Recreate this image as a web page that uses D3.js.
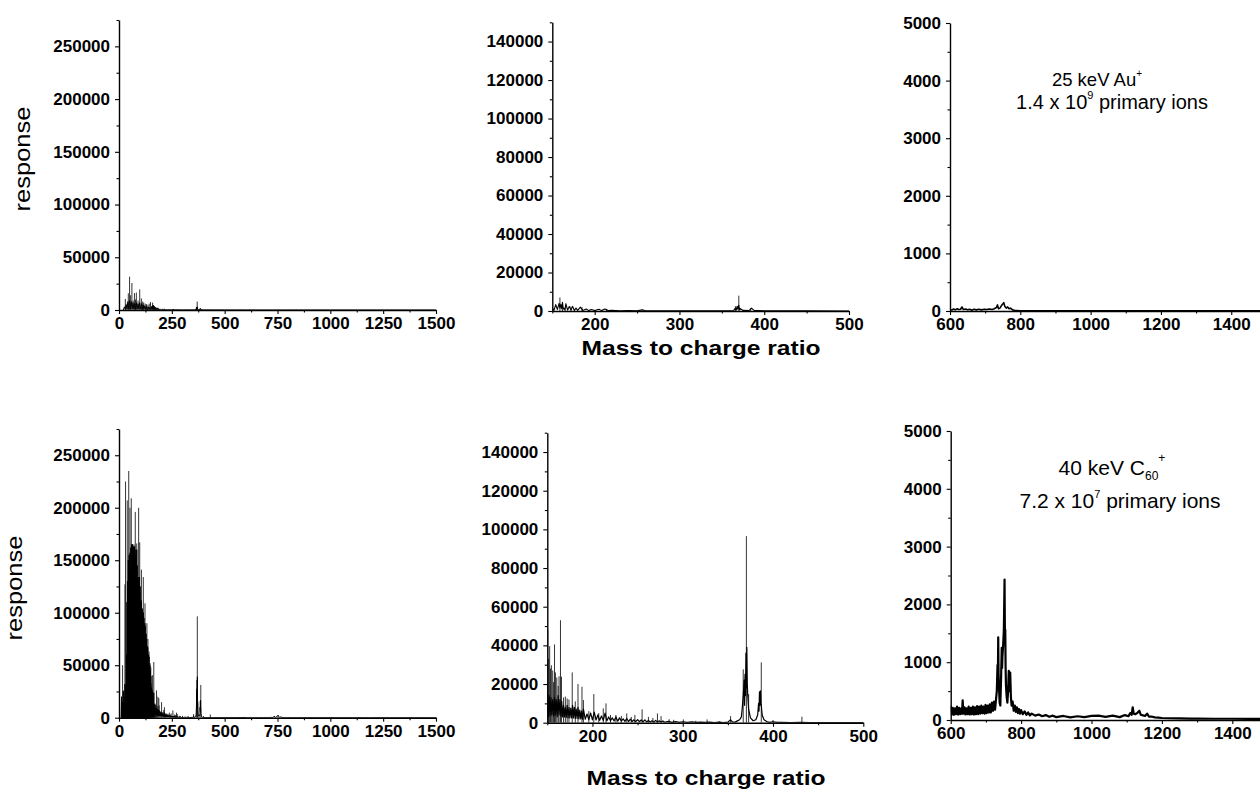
<!DOCTYPE html>
<html lang="en">
<head>
	<meta charset="UTF-8">
	<script src="https://d3js.org/d3.v7.min.js"></script>
	<title>Secondary ion spectra</title>
	<style>
		body { margin: 0; background: #fff; }
		svg { display: block; }
		.axis path, .axis line { stroke: #000; }
		.axis path { stroke-width: 1.4px; }
		.axis line { stroke-width: 1.1px; }
		.axis text {
			font-family: "Liberation Sans", Arial, sans-serif;
			font-weight: bold;
			font-size: 17px;
			fill: #000;
		}
		.label { font-family: "Liberation Sans", Arial, sans-serif; fill: #000; }
	</style>
</head>
<body>
<script>
	// ---- tick labels ----
	const fullMzTicks = [0, 250, 500, 750, 1000, 1250, 1500];
	const fullMzMinor = [125, 375, 625, 875, 1125, 1375];
	const lowMzTicks = [200, 300, 400, 500];
	const lowMzMinor = [150, 250, 350, 450];
	const highMzTicks = [600, 800, 1000, 1200, 1400];
	const highMzMinor = [700, 900, 1100, 1300, 1500];
	const fullIntTicks = [0, 50000, 100000, 150000, 200000, 250000];
	const fullIntMinor = [25000, 75000, 125000, 175000, 225000, 275000];
	const lowIntTicks = [0, 20000, 40000, 60000, 80000, 100000, 120000, 140000];
	const lowIntMinor = [10000, 30000, 50000, 70000, 90000, 110000, 130000, 150000];
	const highIntTicks = [0, 1000, 2000, 3000, 4000, 5000];
	const highIntMinor = [500, 1500, 2500, 3500, 4500];

	// ---- 25 keV Au+ : sticks [m/z, counts] ----
	const auPeaks = [
		[30, 10400], [38, 6000], [44, 15800], [50, 31600], [55, 14000], [61, 25600], [67, 9000],
		[73, 16000], [78, 10000], [82, 16500], [90, 9000], [98, 19500], [106, 11000], [112, 8000],
		[117, 7000], [124, 6000], [130, 5500], [137, 5000], [143, 6000], [149, 7500], [159, 7000],
		[162, 4500], [172, 2400], [185, 2100], [214, 1100], [256, 700], [366, 2500], [370, 8000],
		[384, 1500]
	];
	// ---- 25 keV Au+ : profile [m/z, counts] ----
	const auProfile = [
		[20, 0], [26, 3000], [30, 500], [34, 5000], [38, 800], [42, 8000], [46, 1000], [50, 9000],
		[54, 1200], [58, 8000], [62, 1000], [66, 7000], [70, 1000], [74, 6000], [78, 900], [82, 7000],
		[86, 800], [90, 6000], [94, 800], [98, 7000], [102, 700], [106, 6000], [110, 600], [114, 5000],
		[118, 500], [122, 4000], [126, 500], [130, 3500], [134, 400], [138, 3000], [142, 400], [146, 2500],
		[150, 1500], [152, 300], [154, 3300], [156, 800], [158, 4000], [159, 1500], [160, 3500],
		[161, 1200], [162, 4500], [163, 1000], [164, 1500], [165, 300], [166, 3800], [168, 400],
		[170, 2400], [172, 500], [174, 2400], [176, 300], [178, 1500], [180, 300], [183, 2000],
		[186, 300], [190, 1000], [193, 200], [196, 800], [200, 200], [205, 900], [208, 200], [212, 1000],
		[216, 200], [220, 300], [230, 100], [240, 200], [250, 100], [256, 600], [260, 100], [280, 150],
		[300, 50], [330, 100], [360, 100], [364, 300], [366, 1500], [367, 400], [368, 2500], [369, 800],
		[370, 3000], [371, 600], [372, 1200], [375, 300], [382, 200], [385, 1500], [388, 300],
		[400, 100], [450, 50], [500, 30], [550, 20], [600, 30], [605, 15], [610, 35],
		[615, 20], [620, 40], [625, 25], [630, 30], [634, 70], [638, 25], [645, 35], [650, 20],
		[656, 30], [662, 15], [668, 30], [675, 20], [682, 30], [690, 20], [698, 30], [705, 25],
		[712, 35], [720, 25], [726, 40], [732, 60], [735, 105], [738, 40], [742, 50], [746, 90],
		[750, 120], [753, 145], [756, 80], [760, 50], [764, 70], [768, 40], [772, 50], [778, 20],
		[785, 10], [800, 5], [850, 3], [1000, 2], [1500, 2]
	];

	// ---- 40 keV C60+ : sticks [m/z, counts] ----
	const c60Peaks = [
		[17, 50000], [22, 26000], [28, 127000], [31, 225000], [35, 32000], [39, 207000], [46, 235000],
		[52, 200000], [58, 209000], [65, 165000], [71, 165000], [77, 196000], [84, 166000],
		[93, 200000], [98, 167000], [106, 141000], [115, 134000], [123, 109000], [132, 90000],
		[137, 75000], [142, 63000], [147, 52000], [150.5, 48000], [151.5, 33000], [152.6, 39600],
		[153.5, 28000], [154.5, 29700], [156, 27000], [157, 21000], [158, 40500], [159, 26000],
		[160.5, 23400], [162, 19000], [163, 24000], [164.6, 53000], [165.7, 23800], [168, 13000],
		[170, 13500], [172, 12500], [174, 12000], [177.6, 26000], [181, 11000], [184, 20000],
		[188.4, 18600], [190, 11700], [196, 6000], [201.5, 14800], [207, 5000], [212, 7400],
		[215, 10000], [220, 4000], [226, 4000], [232, 3500], [238, 4800], [243, 3000], [247, 4000],
		[255, 6900], [262, 3000], [267, 2500], [272, 4800], [276, 3400], [285, 1800], [290, 1500],
		[300.7, 1700], [314.5, 1000], [327, 1700], [341, 800], [353, 3400], [367, 27600],
		[370.5, 96500], [373, 14800], [387, 31200], [400, 1400], [432, 3100]
	];
	// ---- 40 keV C60+ : profile [m/z, counts] ----
	const c60Profile = [
		[10, 0], [12, 20000], [13, 0], [14, 8000], [15, 0], [16, 15000], [17, 0], [18, 5000],
		[19, 0], [20, 25000], [21, 0], [22, 12000], [23, 0], [24, 20000], [25, 0], [26, 6000],
		[27, 0], [28, 32000], [29, 0], [30, 15000], [31, 0], [32, 30000], [33, 0],
		[34, 12000], [35, 0], [36, 60000], [37, 0], [38, 110000], [39, 0], [40, 130000],
		[41, 0], [42, 100000], [43, 0], [44, 150000], [45, 0], [46, 120000], [47, 0],
		[48, 155000], [49, 0], [50, 140000], [51, 0], [52, 157000], [53, 0], [54, 110000],
		[55, 0], [56, 162000], [57, 0], [58, 140000], [59, 0], [60, 165000], [61, 0],
		[62, 120000], [63, 0], [64, 165000], [65, 0], [66, 150000], [67, 0], [68, 163000],
		[69, 0], [70, 115000], [71, 0], [72, 160000], [73, 0], [74, 163000], [75, 0],
		[76, 130000], [77, 0], [78, 155000], [79, 0], [80, 160000], [81, 0], [82, 110000],
		[83, 0], [84, 160000], [85, 0], [86, 145000], [87, 0], [88, 100000], [89, 0],
		[90, 134000], [91, 0], [92, 130000], [93, 0], [94, 90000], [95, 0], [96, 134000],
		[97, 0], [98, 120000], [99, 0], [100, 125000], [101, 0], [102, 85000], [103, 0],
		[104, 112000], [105, 0], [106, 110000], [107, 0], [108, 80000], [109, 0],
		[110, 104000], [111, 0], [112, 100000], [113, 0], [114, 70000], [115, 0],
		[116, 100000], [117, 0], [118, 95000], [119, 0], [120, 65000], [121, 0], [122, 90000],
		[123, 0], [124, 87000], [125, 0], [126, 60000], [127, 0], [128, 80000], [129, 0],
		[130, 75000], [131, 0], [132, 50000], [133, 0], [134, 68000], [135, 0], [136, 67000],
		[137, 0], [138, 45000], [139, 0], [140, 60000], [141, 0], [142, 58000], [143, 0],
		[144, 40000], [145, 0], [146, 50000], [147, 0], [148, 45000], [149, 700],
		[150, 15000], [151, 3000], [152, 14000], [153, 3500], [154, 13000], [155, 4000],
		[156, 12000], [157, 3500], [158, 13000], [159, 4000], [160, 12000], [161, 3000], [162, 14000],
		[163, 4000], [164, 12000], [165, 3500], [166, 11000], [167, 3000], [168, 9000], [169, 3000],
		[170, 8000], [171, 2800], [172, 9000], [173, 2500], [174, 8000], [175, 2500], [176, 7500],
		[177, 2500], [178, 9000], [179, 2500], [180, 8000], [181, 2200], [182, 7000], [183, 2200],
		[184, 8000], [185, 2000], [186, 6500], [187, 2000], [188, 6000], [189, 1800], [190, 7000],
		[192, 1800], [194, 4500], [196, 1600], [198, 5000], [200, 1500], [202, 5500], [204, 1400],
		[206, 4000], [208, 1200], [210, 3500], [212, 1200], [214, 5000], [216, 1000], [218, 3000],
		[220, 1000], [222, 2500], [224, 900], [226, 3000], [228, 800], [230, 2500], [232, 800],
		[234, 2000], [236, 700], [238, 2200], [240, 600], [242, 1800], [244, 600], [246, 1500],
		[248, 500], [250, 1600], [252, 500], [254, 1400], [256, 400], [258, 1500], [260, 400],
		[262, 1200], [264, 400], [266, 1000], [268, 300], [270, 1200], [272, 300], [274, 1000],
		[276, 300], [278, 900], [280, 250], [284, 700], [288, 200], [292, 600], [296, 200], [300, 500],
		[305, 200], [310, 400], [315, 150], [320, 300], [325, 150], [330, 300], [335, 100], [340, 250],
		[345, 100], [350, 300], [353, 1500], [355, 400], [358, 300], [360, 800], [363, 1500],
		[365, 3000], [366, 8000], [367, 14000], [368, 22000], [368.5, 9000], [369, 25000],
		[369.5, 14000], [370, 36000], [370.5, 18000], [371, 39000], [371.5, 20000], [372, 14000],
		[373, 7000], [375, 2500], [378, 1000], [381, 1500], [383, 4000], [384, 10000], [384.5, 6000],
		[385, 16000], [385.5, 9000], [386, 16500], [386.5, 10000], [387, 9000], [388, 4000],
		[390, 1500], [393, 600], [396, 200], [400, 500], [405, 150], [410, 200], [420, 100], [430, 200],
		[440, 50], [450, 100], [500, 60], [550, 100],
		[600, 230], [603, 95], [606, 210], [609, 90], [612, 200], [615, 100], [618, 230], [621, 95],
		[624, 210], [627, 100], [630, 200], [632, 110], [634, 340], [636, 110], [639, 220], [642, 95],
		[645, 200], [648, 100], [651, 230], [654, 95], [657, 210], [660, 100], [663, 230], [666, 95],
		[669, 220], [672, 100], [675, 240], [678, 100], [681, 230], [684, 110], [687, 250], [690, 120],
		[693, 230], [696, 110], [699, 260], [702, 120], [705, 250], [708, 130], [711, 270], [714, 130],
		[717, 300], [720, 160], [723, 320], [726, 180], [729, 370], [731, 500], [733, 950], [734, 700],
		[735, 1430], [736, 800], [737, 600], [739, 300], [741, 250], [743, 700], [745, 1250], [746, 900],
		[747, 1100], [749, 1300], [751, 1550], [753, 2430], [754, 1500], [755, 1560], [756, 900],
		[757, 600], [759, 400], [761, 300], [763, 500], [765, 850], [766, 500], [767, 700], [768, 550],
		[769, 820], [771, 400], [773, 250], [776, 320], [779, 160], [782, 250], [785, 140], [788, 220],
		[791, 120], [794, 190], [797, 110], [800, 170], [805, 100], [810, 150], [815, 90], [820, 130],
		[825, 80], [830, 110], [840, 75], [850, 95], [860, 65], [870, 85], [880, 55], [890, 75],
		[900, 50], [920, 70], [940, 45], [960, 65], [980, 50], [1000, 70], [1020, 75], [1040, 55],
		[1060, 75], [1080, 50], [1095, 85], [1105, 65], [1110, 120], [1114, 90], [1117, 220],
		[1120, 110], [1124, 100], [1130, 120], [1136, 160], [1140, 90], [1146, 80], [1152, 70],
		[1158, 110], [1163, 60], [1170, 60], [1180, 45], [1190, 40], [1200, 35], [1220, 30],
		[1250, 28], [1280, 25], [1300, 25], [1350, 22], [1400, 22], [1450, 20], [1500, 20]
	];

	const svg = d3.select('body').append('svg')
		.attr('width', 1260)
		.attr('height', 791);

	// one entry per plot: which spectrum, zoom window and where it sits
	const panels = [
		{ peaks: auPeaks, profile: auProfile, xd: [0, 1500], yd: [0, 275000], l: 119, r: 436, t: 20, b: 310,
			xt: fullMzTicks, xm: fullMzMinor, yt: fullIntTicks, ym: fullIntMinor, lw: 1 },
		{ peaks: auPeaks, profile: auProfile, xd: [150, 500], yd: [0, 150000], l: 552.3, r: 849, t: 22.3, b: 311,
			xt: lowMzTicks, xm: lowMzMinor, yt: lowIntTicks, ym: lowIntMinor, lw: 1.1 },
		{ peaks: auPeaks, profile: auProfile, xd: [600, 1500], yd: [0, 5000], l: 950, r: 1266.4, t: 23, b: 311,
			xt: highMzTicks, xm: highMzMinor, yt: highIntTicks, ym: highIntMinor, lw: 1.6 },
		{ peaks: c60Peaks, profile: c60Profile, xd: [0, 1500], yd: [0, 275000], l: 119, r: 436, t: 429, b: 717.7,
			xt: fullMzTicks, xm: fullMzMinor, yt: fullIntTicks, ym: fullIntMinor, lw: 1 },
		{ peaks: c60Peaks, profile: c60Profile, xd: [150, 500], yd: [0, 150000], l: 547.3, r: 863.3, t: 432.7, b: 722.7,
			xt: lowMzTicks, xm: lowMzMinor, yt: lowIntTicks, ym: lowIntMinor, lw: 1.2 },
		{ peaks: c60Peaks, profile: c60Profile, xd: [600, 1500], yd: [0, 5000], l: 950.7, r: 1267.5, t: 431, b: 720,
			xt: highMzTicks, xm: highMzMinor, yt: highIntTicks, ym: highIntMinor, lw: 2.2 }
	];

	panels.forEach((p, i) => {
		const x = d3.scaleLinear().domain(p.xd).range([p.l, p.r]);
		const y = d3.scaleLinear().domain(p.yd).range([p.b, p.t]);

		svg.append('clipPath').attr('id', 'clip' + i)
			.append('rect')
			.attr('x', p.l).attr('y', p.t)
			.attr('width', p.r - p.l).attr('height', p.b - p.t);

		const plot = svg.append('g').attr('clip-path', `url(#clip${i})`);

		plot.selectAll('line')
			.data(p.peaks)
			.enter()
			.append('line')
			.attr('x1', d => x(d[0]))
			.attr('x2', d => x(d[0]))
			.attr('y1', y(0))
			.attr('y2', d => y(d[1]))
			.attr('stroke', '#000')
			.attr('stroke-width', 0.8);

		plot.append('path')
			.datum(p.profile)
			.attr('d', d3.line().x(d => x(d[0])).y(d => y(d[1])))
			.attr('fill', 'none')
			.attr('stroke', '#000')
			.attr('stroke-linejoin', 'round')
			.attr('stroke-width', p.lw);

		// axes, major then minor ticks
		svg.append('g').attr('class', 'axis')
			.attr('transform', `translate(0,${p.b})`)
			.call(d3.axisBottom(x).tickValues(p.xt).tickSize(4).tickSizeOuter(0).tickPadding(3).tickFormat(d3.format('d')));
		svg.append('g').attr('class', 'axis')
			.attr('transform', `translate(0,${p.b})`)
			.call(d3.axisBottom(x).tickValues(p.xm).tickSize(2.5).tickFormat(''))
			.select('.domain').remove();

		svg.append('g').attr('class', 'axis')
			.attr('transform', `translate(${p.l},0)`)
			.call(d3.axisLeft(y).tickValues(p.yt).tickSize(4).tickSizeOuter(0).tickPadding(5).tickFormat(d3.format('d')));
		svg.append('g').attr('class', 'axis')
			.attr('transform', `translate(${p.l},0)`)
			.call(d3.axisLeft(y).tickValues(p.ym).tickSize(2.5).tickFormat(''))
			.select('.domain').remove();
	});

	// axis titles
	[[30, 159], [22, 588]].forEach(([cx, cy]) => {
		svg.append('text').attr('class', 'label')
			.attr('transform', `translate(${cx},${cy}) rotate(-90)`)
			.attr('text-anchor', 'middle')
			.attr('font-size', 22)
			.attr('textLength', 105)
			.attr('lengthAdjust', 'spacingAndGlyphs')
			.text('response');
	});
	[[701, 355], [706, 785]].forEach(([cx, cy]) => {
		svg.append('text').attr('class', 'label')
			.attr('x', cx).attr('y', cy)
			.attr('text-anchor', 'middle')
			.attr('font-size', 21)
			.attr('font-weight', 'bold')
			.attr('textLength', 239)
			.attr('lengthAdjust', 'spacingAndGlyphs')
			.text('Mass to charge ratio');
	});

	// annotations
	const au1 = svg.append('text').attr('class', 'label')
		.attr('x', 1097).attr('y', 86).attr('text-anchor', 'middle').attr('font-size', 18.5);
	au1.append('tspan').text('25 keV Au');
	au1.append('tspan').attr('font-size', 10).attr('dy', -9).text('+');

	const au2 = svg.append('text').attr('class', 'label')
		.attr('x', 1112).attr('y', 109).attr('text-anchor', 'middle').attr('font-size', 20);
	au2.append('tspan').text('1.4 x 10');
	au2.append('tspan').attr('font-size', 11).attr('dy', -10).text('9');
	au2.append('tspan').attr('dy', 10).text(' primary ions');

	const c1 = svg.append('text').attr('class', 'label')
		.attr('x', 1112).attr('y', 475).attr('text-anchor', 'middle').attr('font-size', 21);
	c1.append('tspan').text('40 keV C');
	c1.append('tspan').attr('font-size', 12).attr('dy', 5).text('60');
	c1.append('tspan').attr('font-size', 12).attr('dy', -18).text('+');

	const c2 = svg.append('text').attr('class', 'label')
		.attr('x', 1120).attr('y', 508).attr('text-anchor', 'middle').attr('font-size', 21);
	c2.append('tspan').text('7.2 x 10');
	c2.append('tspan').attr('font-size', 11).attr('dy', -10).text('7');
	c2.append('tspan').attr('dy', 10).text(' primary ions');
</script>
</body>
</html>
